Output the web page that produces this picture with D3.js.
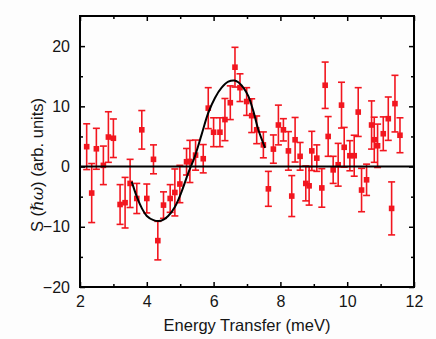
<!DOCTYPE html>
<html>
<head>
<meta charset="utf-8">
<script src="https://cdn.jsdelivr.net/npm/d3@7"></script>
<style>
body { margin: 0; background: #fdfdfd; }
svg { display: block; }
.tick-label { font-family: "Liberation Sans", Arial, sans-serif; font-size: 16px; fill: #151515; }
.axis-title { font-family: "Liberation Sans", Arial, sans-serif; font-size: 16.5px; fill: #151515; }
</style>
</head>
<body>
<div id="chart"></div>
<script>
// measured points (energy in meV, intensity, error)
var energy = [2.20,2.35,2.49,2.70,2.85,3.00,3.20,3.35,3.50,3.70,
	3.85,4.00,4.20,4.33,4.50,4.70,4.84,4.99,5.19,5.29,
	5.46,5.69,5.84,6.00,6.19,6.34,6.50,6.64,6.79,6.99,
	7.14,7.29,7.49,7.64,7.79,7.94,8.09,8.24,8.34,8.44,
	8.59,8.76,8.86,8.94,9.09,9.24,9.34,9.43,9.58,9.73,
	9.83,9.91,10.08,10.21,10.33,10.43,10.58,10.73,10.81,10.91,
	11.08,11.23,11.33,11.43,11.58]
var signal = [3.3,-4.4,2.95,0.2,4.9,4.7,-6.3,-6.0,-2.8,-5.3,
	6.1,-5.3,1.2,-12.3,-6.4,-5.3,-4.3,-2.9,0.8,0.85,
	1.9,1.3,9.7,5.7,5.7,7.8,10.6,16.5,13.1,10.8,
	8.45,6.1,3.6,-3.7,2.9,6.9,6.1,2.6,-4.9,4.45,
	1.7,-2.8,-3.2,2.6,1.4,-3.55,13.5,5.0,-0.55,0.3,
	10.2,3.2,1.8,1.8,9.05,-3.9,-2.2,6.9,4.45,3.45,
	5.45,7.95,-6.95,10.45,5.2]
var errors = [3.8,4.9,3.4,3.2,4.2,3.2,3.3,4.2,4.0,2.5,
	3.2,2.4,2.4,3.2,2.2,2.3,3.9,3.1,2.2,3.5,
	2.5,2.35,3.4,2.4,2.4,3.5,2.8,3.3,2.3,2.3,
	2.8,2.3,2.15,2.9,2.35,3.3,1.85,3.2,3.4,3.7,
	2.3,2.9,3.2,3.25,2.2,3.2,3.85,3.3,2.25,3.55,
	3.8,3.3,2.5,3.4,4.05,3.6,2.6,4.0,3.75,3.6,
	2.8,3.6,4.4,4.7,2.9]

// fit curve
var fitEnergy = [3.55,3.70,3.85,4.00,4.20,4.35,4.50,4.64,4.84,5.04,5.24,5.44,
	5.64,5.84,6.04,6.24,6.44,6.62,6.74,6.89,7.04,7.19,7.34,7.54]
var fitSignal = [-2.5,-5.0,-6.9,-8.2,-8.9,-9.05,-8.8,-8.2,-6.7,-4.2,-1.1,1.7,
	5.3,8.9,11.4,13.1,14.1,14.3,14.0,13.1,11.7,9.2,6.1,3.1]

var xTicks = [2,4,6,8,10,12]
var yTicks = [-20,-10,0,10,20]
var xMinor = [3,5,7,9,11]
var yMinor = [-15,-5,5,15]

var width = 436, height = 339
var margin = {top: 16, right: 22, bottom: 52, left: 80}
var red = "#f2161f"

var svg = d3.select("#chart").append("svg")
	.attr("width", width)
	.attr("height", height)

var xScale = d3.scaleLinear().domain([2, 12]).range([margin.left, width - margin.right])
var yScale = d3.scaleLinear().domain([-20, 25]).range([height - margin.bottom, margin.top])

var points = energy.map((e, i) => ({x: e, y: signal[i], err: errors[i]}))
var fit = fitEnergy.map((e, i) => ({x: e, y: fitSignal[i]}))

// error bars
var bars = svg.append("g").selectAll("g")
	.data(points)
	.enter()
	.append("g")
	.attr("stroke", red)
	.attr("stroke-width", 1.6)

bars.append("line")
	.attr("x1", d => xScale(d.x)).attr("x2", d => xScale(d.x))
	.attr("y1", d => yScale(d.y + d.err)).attr("y2", d => yScale(d.y - d.err))
bars.append("line")
	.attr("x1", d => xScale(d.x) - 3.5).attr("x2", d => xScale(d.x) + 3.5)
	.attr("y1", d => yScale(d.y + d.err)).attr("y2", d => yScale(d.y + d.err))
bars.append("line")
	.attr("x1", d => xScale(d.x) - 3.5).attr("x2", d => xScale(d.x) + 3.5)
	.attr("y1", d => yScale(d.y - d.err)).attr("y2", d => yScale(d.y - d.err))

svg.append("g").selectAll("rect")
	.data(points)
	.enter()
	.append("rect")
	.attr("x", d => xScale(d.x) - 2.8)
	.attr("y", d => yScale(d.y) - 2.8)
	.attr("width", 5.6)
	.attr("height", 5.6)
	.attr("fill", red)

// zero line
svg.append("line")
	.attr("x1", xScale(2)).attr("x2", xScale(12))
	.attr("y1", yScale(0)).attr("y2", yScale(0))
	.attr("stroke", "#000")
	.attr("stroke-width", 2)

svg.append("path")
	.datum(fit)
	.attr("fill", "none")
	.attr("stroke", "#000")
	.attr("stroke-width", 2)
	.attr("d", d3.line()
		.curve(d3.curveCatmullRom)
		.x(d => xScale(d.x))
		.y(d => yScale(d.y)))

// axes, ticks pointing inward on all four sides
var x0 = xScale.range()[0], x1 = xScale.range()[1]
var y0 = yScale.range()[0], y1 = yScale.range()[1]

var xAxis = d3.axisBottom(xScale).tickValues(xTicks).tickSize(-5).tickPadding(9)
var xAxisMinor = d3.axisBottom(xScale).tickValues(xMinor).tickSize(-3).tickFormat("")
var xTop = d3.axisTop(xScale).tickValues(xTicks).tickSize(-5).tickFormat("")
var xTopMinor = d3.axisTop(xScale).tickValues(xMinor).tickSize(-3).tickFormat("")
var yAxis = d3.axisLeft(yScale).tickValues(yTicks).tickSize(-5).tickPadding(10)
var yAxisMinor = d3.axisLeft(yScale).tickValues(yMinor).tickSize(-3).tickFormat("")
var yRight = d3.axisRight(yScale).tickValues(yTicks).tickSize(-5).tickFormat("")
var yRightMinor = d3.axisRight(yScale).tickValues(yMinor).tickSize(-3).tickFormat("")

function drawAxis(axis, transform){
	var g = svg.append("g")
		.attr("transform", transform)
		.call(axis)
	g.select(".domain").remove()
	g.selectAll(".tick line").attr("stroke", "#000").attr("stroke-width", 1.5)
	g.selectAll(".tick text").attr("class", "tick-label").attr("font-size", null).attr("font-family", null)
	return g
}

drawAxis(xAxis, "translate(0," + y0 + ")")
drawAxis(xAxisMinor, "translate(0," + y0 + ")")
drawAxis(xTop, "translate(0," + y1 + ")")
drawAxis(xTopMinor, "translate(0," + y1 + ")")
drawAxis(yAxis, "translate(" + x0 + ",0)")
drawAxis(yAxisMinor, "translate(" + x0 + ",0)")
drawAxis(yRight, "translate(" + x1 + ",0)")
drawAxis(yRightMinor, "translate(" + x1 + ",0)")

svg.append("rect")
	.attr("x", x0).attr("y", y1)
	.attr("width", x1 - x0).attr("height", y0 - y1)
	.attr("fill", "none")
	.attr("stroke", "#000")
	.attr("stroke-width", 2)

svg.append("text")
	.attr("class", "axis-title")
	.attr("x", (x0 + x1) / 2)
	.attr("y", 331)
	.attr("text-anchor", "middle")
	.text("Energy Transfer (meV)")

var ylab = svg.append("text")
	.attr("class", "axis-title")
	.attr("transform", "translate(43,165) rotate(-90)")
	.attr("text-anchor", "middle")
ylab.append("tspan").text("S (")
ylab.append("tspan")
	.attr("font-family", "'DejaVu Serif', 'Liberation Serif', serif")
	.attr("font-style", "italic")
	.text("ℏω")
ylab.append("tspan").text(") (arb. units)")
</script>
</body>
</html>
